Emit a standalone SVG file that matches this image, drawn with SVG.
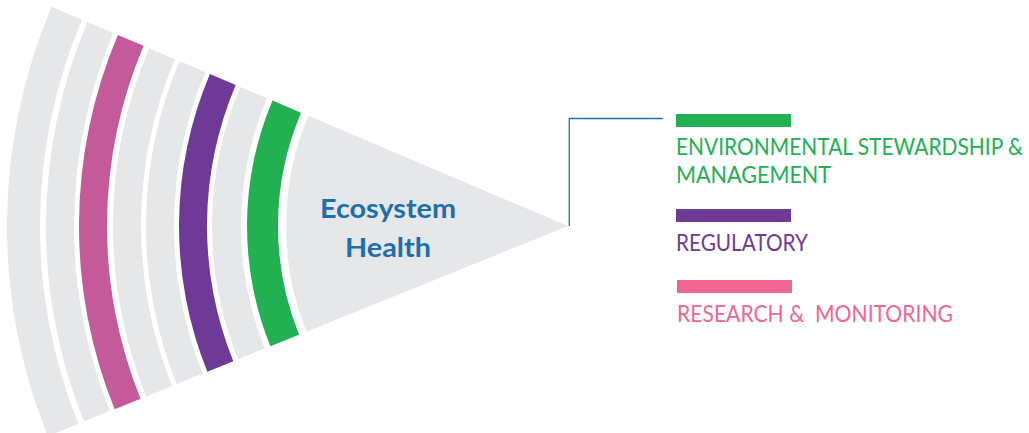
<svg xmlns="http://www.w3.org/2000/svg" width="1029" height="433" viewBox="0 0 1029 433">
<style>
.gray{fill:#E6E7E8}
.pink{fill:#C55A9A}
.purple{fill:#6F3A96}
.green{fill:#22B052}
.hub{font-family:Lato,"Liberation Sans",sans-serif;font-weight:bold;font-size:27px;fill:#1B6FAF}
.lbl{font-family:Lato,"Liberation Sans",sans-serif;font-size:23px;white-space:pre}
</style>
<rect width="1029" height="433" fill="#FFFFFF"/>
<g id="fan">
<path class="gray" d="M51.60 6.80 A561 561 0 0 0 47.85 436.16 L78.45 423.79 A528 528 0 0 1 81.98 19.69 Z"/>
<path class="gray" d="M87.50 22.04 A522 522 0 0 0 83.99 421.55 L109.97 411.06 A494 494 0 0 1 113.27 32.98 Z"/>
<path class="pink" d="M117.88 34.93 A489 489 0 0 0 114.61 409.18 L140.57 398.70 A461 461 0 0 1 143.65 45.87 Z"/>
<path class="gray" d="M149.17 48.22 A455 455 0 0 0 146.13 396.45 L172.09 385.96 A427 427 0 0 1 174.95 59.16 Z"/>
<path class="gray" d="M179.55 61.11 A422 422 0 0 0 176.73 384.09 L202.69 373.60 A394 394 0 0 1 205.32 72.05 Z"/>
<path class="purple" d="M209.93 74.01 A389 389 0 0 0 207.33 371.72 L233.29 361.23 A361 361 0 0 1 235.70 84.95 Z"/>
<path class="gray" d="M240.30 86.90 A356 356 0 0 0 237.92 359.36 L264.81 348.50 A327 327 0 0 1 267.00 98.23 Z"/>
<path class="green" d="M272.52 100.58 A321 321 0 0 0 270.38 346.25 L299.12 334.64 A290 290 0 0 1 301.05 112.69 Z"/>
</g>
<g id="ecosystem-health">
<path class="gray" d="M568 226 L308.42 115.81 A282 282 0 0 0 306.54 331.64 Z"/>
<text class="hub" x="320" y="218" textLength="136" lengthAdjust="spacingAndGlyphs">Ecosystem</text>
<text class="hub" x="345" y="257" textLength="86" lengthAdjust="spacingAndGlyphs">Health</text>
</g>
<g id="connectors">
<polyline points="569.3,226 569.3,118.5 663,118.5" fill="none" stroke="#1F6FB0" stroke-width="1.3"/>
</g>
<g id="legend-environmental">
<rect x="676" y="114" width="115" height="13" fill="#22B052"/>
<text class="lbl" transform="scale(0.9,1)" x="751.11" y="155" fill="#22B052" textLength="385.5" lengthAdjust="spacingAndGlyphs">ENVIRONMENTAL STEWARDSHIP &amp;</text>
<text class="lbl" x="676" y="183" fill="#22B052" textLength="155" lengthAdjust="spacingAndGlyphs">MANAGEMENT</text>
</g>
<g id="legend-regulatory">
<rect x="676" y="209" width="115" height="13" fill="#6F3A96"/>
<text class="lbl" x="676" y="251" fill="#6F3A96" textLength="132" lengthAdjust="spacingAndGlyphs">REGULATORY</text>
</g>
<g id="legend-research">
<rect x="677" y="280" width="115" height="13" fill="#F06693"/>
<text class="lbl" x="677" y="322" fill="#F06693" xml:space="preserve" textLength="276" lengthAdjust="spacingAndGlyphs">RESEARCH &amp;  MONITORING</text>
</g>
</svg>
